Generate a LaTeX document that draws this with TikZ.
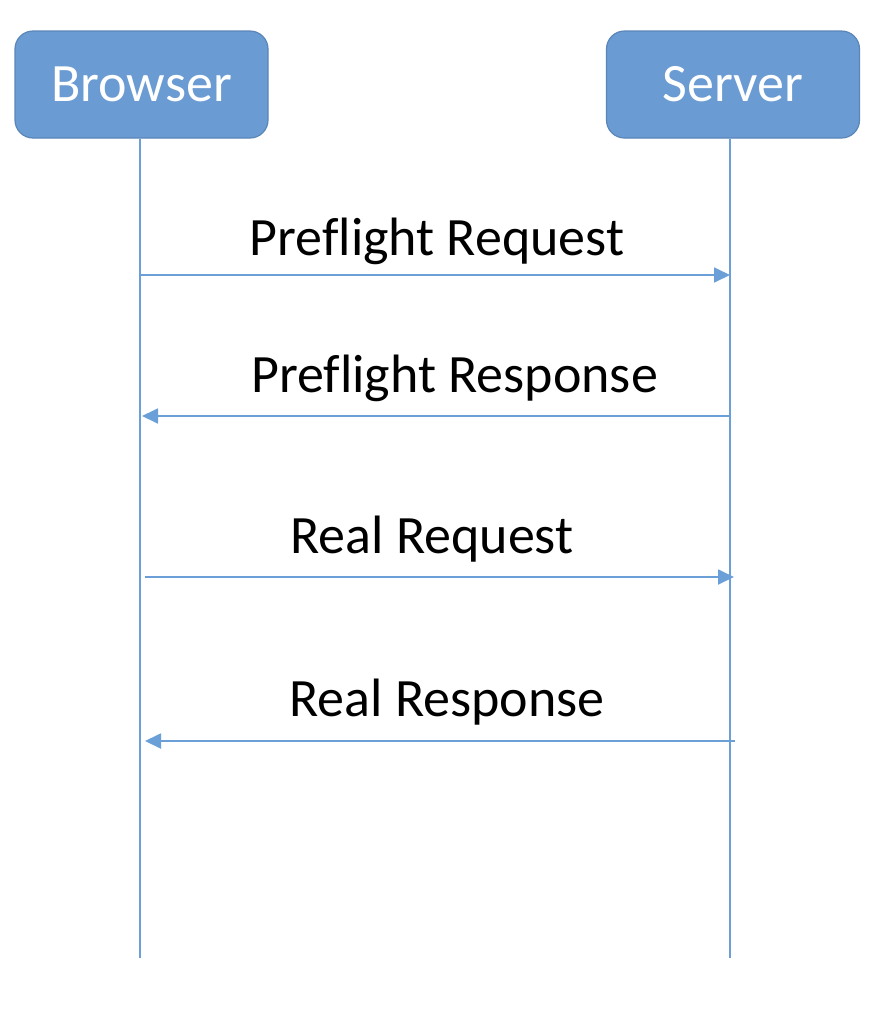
\documentclass[tikz,border=0pt]{standalone}
\usepackage{fontspec}
\setmainfont[Ligatures=NoCommon]{Carlito}
\usetikzlibrary{arrows.meta}
\definecolor{boxfill}{HTML}{6A9BD2}
\definecolor{boxedge}{HTML}{5A86B8}
\definecolor{wire}{HTML}{6A9FD8}
\begin{document}
\begin{tikzpicture}[x=1pt,y=-1pt,
  actor/.style={draw=boxedge,line width=1.2pt,fill=boxfill,rounded corners=18pt,
    minimum width=253pt,minimum height=107pt,inner sep=0pt,text=white,
    font=\fontsize{54}{60}\selectfont},
  lifeline/.style={draw=wire,line width=1.8pt},
  msg/.style={draw=wire,line width=1.8pt,-{Triangle[length=16pt,width=15pt]}},
  lbl/.style={anchor=base,inner sep=0pt,font=\fontsize{54}{60}\selectfont}]
  \useasboundingbox (0,0) rectangle (876,1010);
  \fill[white] (0,0) rectangle (876,1010);

  % participants
  \node[actor] (browser) at (141.5,84.5) {Browser};
  \node[actor] (server) at (733,84.5) {Server};

  % lifeline ends
  \coordinate (bend) at (140,958);
  \coordinate (send) at (730,958);
  \draw[lifeline] (browser.south -| bend) -- (bend);
  \draw[lifeline] (server.south -| send) -- (send);

  % message end points
  \coordinate (m1a) at (140,275);  \coordinate (m1b) at (730,275);
  \coordinate (m2a) at (730,416);  \coordinate (m2b) at (142,416);
  \coordinate (m3a) at (145,577);  \coordinate (m3b) at (734,577);
  \coordinate (m4a) at (735,741);  \coordinate (m4b) at (145,741);

  \draw[msg] (m1a) -- (m1b);
  \draw[msg] (m2a) -- (m2b);
  \draw[msg] (m3a) -- (m3b);
  \draw[msg] (m4a) -- (m4b);

  % message labels
  \node[lbl] (l1) at (437,255) {Preflight Request};
  \node[lbl] (l2) at (454.5,392) {Preflight Response};
  \node[lbl] (l3) at (432,553) {Real Request};
  \node[lbl] (l4) at (447,716) {Real Response};
\end{tikzpicture}
\end{document}
